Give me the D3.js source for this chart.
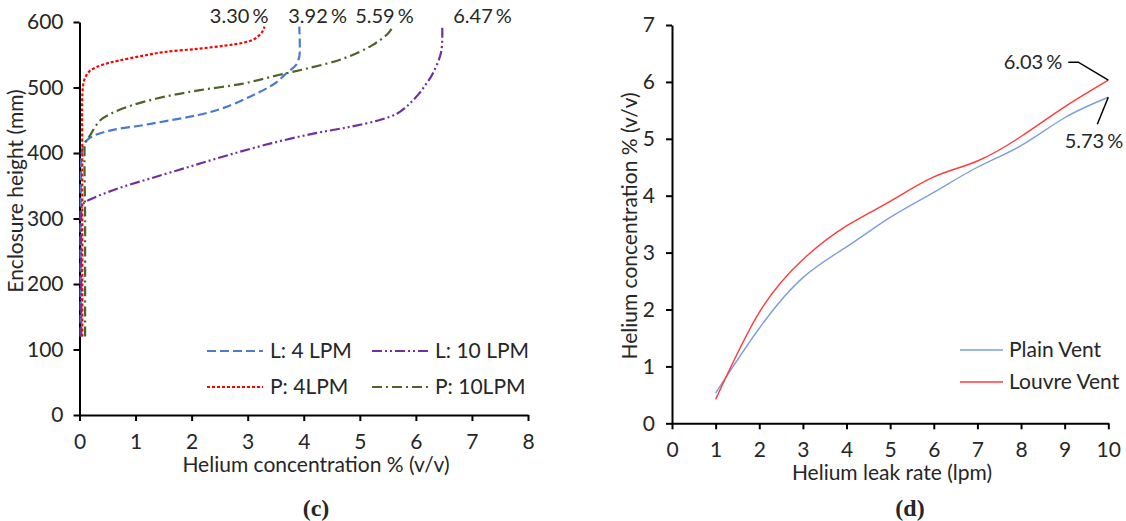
<!DOCTYPE html>
<html><head><meta charset="utf-8">
<script src="https://cdn.jsdelivr.net/npm/d3@7"></script>
<style>
html,body{margin:0;padding:0;background:#fff;}
text{font-family:Lato,"Open Sans",sans-serif;fill:#262626;}
.lab{font-size:20px;word-spacing:-2px;}
</style></head>
<body><svg id="c" width="1126" height="521"></svg>
<script>
// ---- Panel (c): height (mm) vs concentration (%) ----
const cXTicks = [0,1,2,3,4,5,6,7,8];
const cYTicks = [0,100,200,300,400,500,600];
const l4H = [120,200,300,400,412,420,427,435,442,450,458,468,486,506,524,534,547,560,593];
const l4C = [0.02,0.02,0.02,0.04,0.07,0.14,0.27,0.58,1.1,1.62,2.12,2.54,3.04,3.48,3.72,3.86,3.92,3.93,3.92];
const l10H = [120,200,300,318,323,331,346,361,379,397,415,430,440,450,460,470,478,491,505,521,554,593];
const l10C = [0.03,0.03,0.03,0.04,0.07,0.24,0.69,1.26,1.96,2.66,3.43,4.19,4.83,5.34,5.66,5.82,5.92,6.06,6.18,6.3,6.45,6.47];
const p4H = [120,200,300,400,500,515,525,531,537,541,548,554,559,564,568,574,585,593];
const p4C = [0.05,0.05,0.05,0.05,0.06,0.1,0.18,0.3,0.5,0.7,1.1,1.5,2.1,2.6,2.9,3.12,3.26,3.30];
const p10H = [120,200,300,400,415,422,430,440,450,460,473,486,496,506,519,529,544,564,582,593];
const p10C = [0.1,0.1,0.1,0.09,0.1,0.15,0.21,0.28,0.37,0.56,0.94,1.52,2.15,2.92,3.55,4.06,4.7,5.21,5.5,5.59];
const cSeriesNames = ["L: 4 LPM","L: 10 LPM","P: 4LPM","P: 10LPM"];
const cEndLabels = ["3.92 %","6.47 %","3.30 %","5.59 %"];

// ---- Panel (d): concentration vs leak rate ----
const dXTicks = [0,1,2,3,4,5,6,7,8,9,10];
const dYTicks = [0,1,2,3,4,5,6,7];
const leakRate = [1,2,3,4,5,6,7,8,9,10];
const plainVent = [0.53,1.67,2.56,3.1,3.62,4.06,4.5,4.88,5.37,5.73];
const louvreVent = [0.42,1.95,2.88,3.47,3.9,4.33,4.61,5.04,5.56,6.03];
const dSeriesNames = ["Plain Vent","Louvre Vent"];
const dEndLabels = ["5.73 %","6.03 %"];

const svg = d3.select("#c");
const fs = 21;

// ===== Panel (c) =====
const cx = d3.scaleLinear().domain([0,8]).range([79.5,528]);
const cy = d3.scaleLinear().domain([0,600]).range([415,22]);

const gcx = svg.append("g").attr("transform","translate(0,415)")
  .call(d3.axisBottom(cx).tickValues(cXTicks).tickSize(6).tickPadding(13).tickSizeOuter(0));
const gcy = svg.append("g").attr("transform","translate(79.5,0)")
  .call(d3.axisLeft(cy).tickValues(cYTicks).tickSize(6).tickPadding(10).tickSizeOuter(0));
[gcx,gcy].forEach(g=>{
  g.selectAll("path,line").attr("stroke","#000").attr("stroke-width",2);
  g.selectAll("text").style("font-size",fs+"px").style("font-family","Lato").attr("fill","#262626");
});

const cStyles = [
  {c:"#4A7BD0", d:"9,4"},
  {c:"#7030A0", d:"10,3,2,3,2,3"},
  {c:"#FF0000", d:"3,2"},
  {c:"#4F6228", d:"10,4,2,4"}
];
const cData = [[l4C,l4H],[l10C,l10H],[p4C,p4H],[p10C,p10H]];
const cLine = d3.line().x(d=>cx(d[0])).y(d=>cy(d[1])).curve(d3.curveCatmullRom.alpha(0.5));
cData.forEach((s,i)=>{
  const pts = s[0].map((v,j)=>[v,s[1][j]]);
  svg.append("path").datum(pts).attr("d",cLine).attr("fill","none")
    .attr("stroke",cStyles[i].c).attr("stroke-width",2.2).attr("stroke-dasharray",cStyles[i].d);
});
// end labels
const cLabOff = [[-11,"start"],[11,"start"],[4,"end"],[21,"end"]];
cData.forEach((s,i)=>{
  const last = s[0].length-1;
  svg.append("text").attr("class","lab").attr("x",cx(s[0][last])+cLabOff[i][0]).attr("y",23)
    .attr("text-anchor",cLabOff[i][1]).text(cEndLabels[i]);
});
// legend
const cLeg = [[207,351],[372,351],[207,387],[372,387]];
cSeriesNames.forEach((n,i)=>{
  const [lx,ly] = cLeg[i];
  svg.append("line").attr("x1",lx).attr("x2",lx+56).attr("y1",ly).attr("y2",ly)
    .attr("stroke",cStyles[i].c).attr("stroke-width",2.2).attr("stroke-dasharray",cStyles[i].d);
  svg.append("text").attr("x",lx+63).attr("y",ly+7).style("font-size",fs+"px").text(n);
});
svg.append("text").attr("x",316).attr("y",472).attr("text-anchor","middle").style("font-size",fs+"px")
  .text("Helium concentration % (v/v)");
svg.append("text").attr("transform","translate(23,191) rotate(-90)").attr("text-anchor","middle")
  .style("font-size",fs+"px").text("Enclosure height (mm)");
svg.append("text").attr("x",316).attr("y",516).attr("text-anchor","middle")
  .style("font-family","'Liberation Serif','Times New Roman',serif").style("font-weight","bold").style("font-size","24px")
  .text("(c)");

// ===== Panel (d) =====
const dx = d3.scaleLinear().domain([0,10]).range([672,1108.3]);
const dy = d3.scaleLinear().domain([0,7]).range([423.3,25]);
const gdx = svg.append("g").attr("transform","translate(0,423.3)")
  .call(d3.axisBottom(dx).tickValues(dXTicks).tickFormat(d3.format("d")).tickSize(6).tickPadding(13).tickSizeOuter(0));
const gdy = svg.append("g").attr("transform","translate(672,0)")
  .call(d3.axisLeft(dy).tickValues(dYTicks).tickFormat(d3.format("d")).tickSize(6).tickPadding(11).tickSizeOuter(0));
[gdx,gdy].forEach(g=>{
  g.selectAll("path,line").attr("stroke","#000").attr("stroke-width",2);
  g.selectAll("text").style("font-size",fs+"px").style("font-family","Lato").attr("fill","#262626");
});
const dColors = ["#7F9FDB","#FF3B3B"];
const dLine = d3.line().x((d,i)=>dx(leakRate[i])).y(d=>dy(d)).curve(d3.curveNatural);
[plainVent,louvreVent].forEach((s,i)=>{
  svg.append("path").datum(s).attr("d",dLine).attr("fill","none")
    .attr("stroke",dColors[i]).attr("stroke-width",1.4);
});
// end labels with leader lines
const nL = leakRate.length-1;
{
  const px = dx(leakRate[nL]), py = dy(louvreVent[nL]);
  svg.append("path").attr("d",`M${px},${py} L${px-30},${py-18} L${px-40},${py-18}`)
    .attr("fill","none").attr("stroke","#000").attr("stroke-width",1.5);
  svg.append("text").attr("class","lab").attr("x",px-46).attr("y",py-11).attr("text-anchor","end").text(dEndLabels[1]);
}
{
  const px = dx(leakRate[nL]), py = dy(plainVent[nL]);
  svg.append("path").attr("d",`M${px},${py} L${px-11},${py+27}`)
    .attr("fill","none").attr("stroke","#000").attr("stroke-width",1.5);
  svg.append("text").attr("class","lab").attr("x",px+15).attr("y",py+51).attr("text-anchor","end").text(dEndLabels[0]);
}
// legend
dSeriesNames.forEach((n,i)=>{
  const ly = 350 + i*32;
  svg.append("line").attr("x1",960).attr("x2",1003).attr("y1",ly).attr("y2",ly)
    .attr("stroke",dColors[i]).attr("stroke-width",1.4);
  svg.append("text").attr("x",1009).attr("y",ly+7).style("font-size",fs+"px").text(n);
});
svg.append("text").attr("x",892).attr("y",480).attr("text-anchor","middle").style("font-size",fs+"px")
  .text("Helium leak rate (lpm)");
svg.append("text").attr("transform","translate(637,226) rotate(-90)").attr("text-anchor","middle")
  .style("font-size",fs+"px").text("Helium concentration % (v/v)");
svg.append("text").attr("x",910).attr("y",516).attr("text-anchor","middle")
  .style("font-family","'Liberation Serif','Times New Roman',serif").style("font-weight","bold").style("font-size","24px")
  .text("(d)");
</script></body></html>
